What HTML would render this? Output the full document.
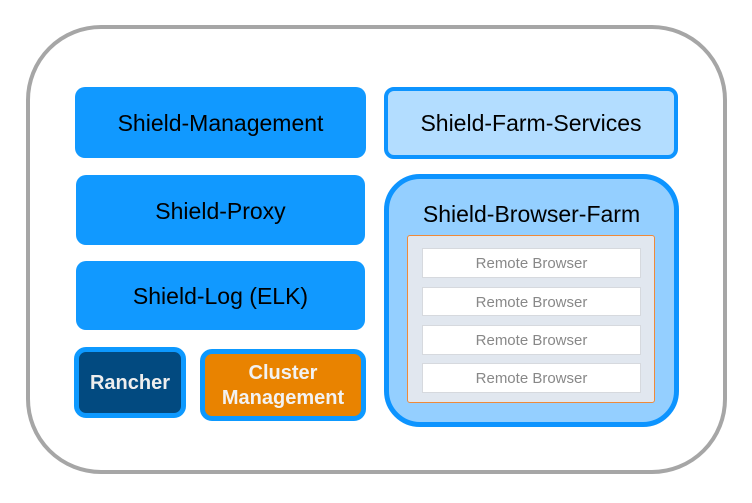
<!DOCTYPE html>
<html><head><style>
body{margin:0;width:752px;height:503px;background:#fff;position:relative;overflow:hidden;font-family:"Liberation Sans",sans-serif}
div{position:absolute;box-sizing:border-box;display:flex;align-items:center;justify-content:center;text-align:center}
.b{background:#1199ff;border-radius:10px;font-size:23px;color:#000;padding-top:2px}
.r{background:#fff;border:1px solid #d6d9de;color:#888;font-size:15px;padding-top:1px}
</style></head><body>
<div style="left:26px;top:25px;width:701px;height:449px;border:4px solid #a6a6a6;border-radius:75px"></div>
<div class="b" style="left:75px;top:87px;width:291px;height:71px">Shield-Management</div>
<div class="b" style="left:76px;top:175px;width:289px;height:70px">Shield-Proxy</div>
<div class="b" style="left:76px;top:261px;width:289px;height:69px">Shield-Log (ELK)</div>
<div style="left:74px;top:347px;width:112px;height:71px;background:#024a80;border:5px solid #0d99ff;border-radius:12px;color:#eee;font-weight:bold;font-size:20px;padding-top:2px">Rancher</div>
<div style="left:200px;top:349px;width:166px;height:72px;background:#e98300;border:5px solid #0d99ff;border-radius:12px;color:#f2f2f2;font-weight:bold;font-size:20px;line-height:25px;padding-top:2px">Cluster<br>Management</div>
<div style="left:384px;top:87px;width:294px;height:72px;background:#b3ddff;border:4px solid #0d94ff;border-radius:10px;font-size:23px">Shield-Farm-Services</div>
<div style="left:384px;top:174px;width:295px;height:253px;background:#94cfff;border:5px solid #0d94ff;border-radius:36px;align-items:flex-start;padding-top:22px;font-size:23px">Shield-Browser-Farm</div>
<div style="left:407px;top:235px;width:248px;height:168px;background:#e1e7ef;border:1px solid #ee8a3a;border-radius:3px"></div>
<div class="r" style="left:422px;top:248px;width:219px;height:30px">Remote Browser</div>
<div class="r" style="left:422px;top:287px;width:219px;height:29px">Remote Browser</div>
<div class="r" style="left:422px;top:325px;width:219px;height:30px">Remote Browser</div>
<div class="r" style="left:422px;top:363px;width:219px;height:30px">Remote Browser</div>
</body></html>
